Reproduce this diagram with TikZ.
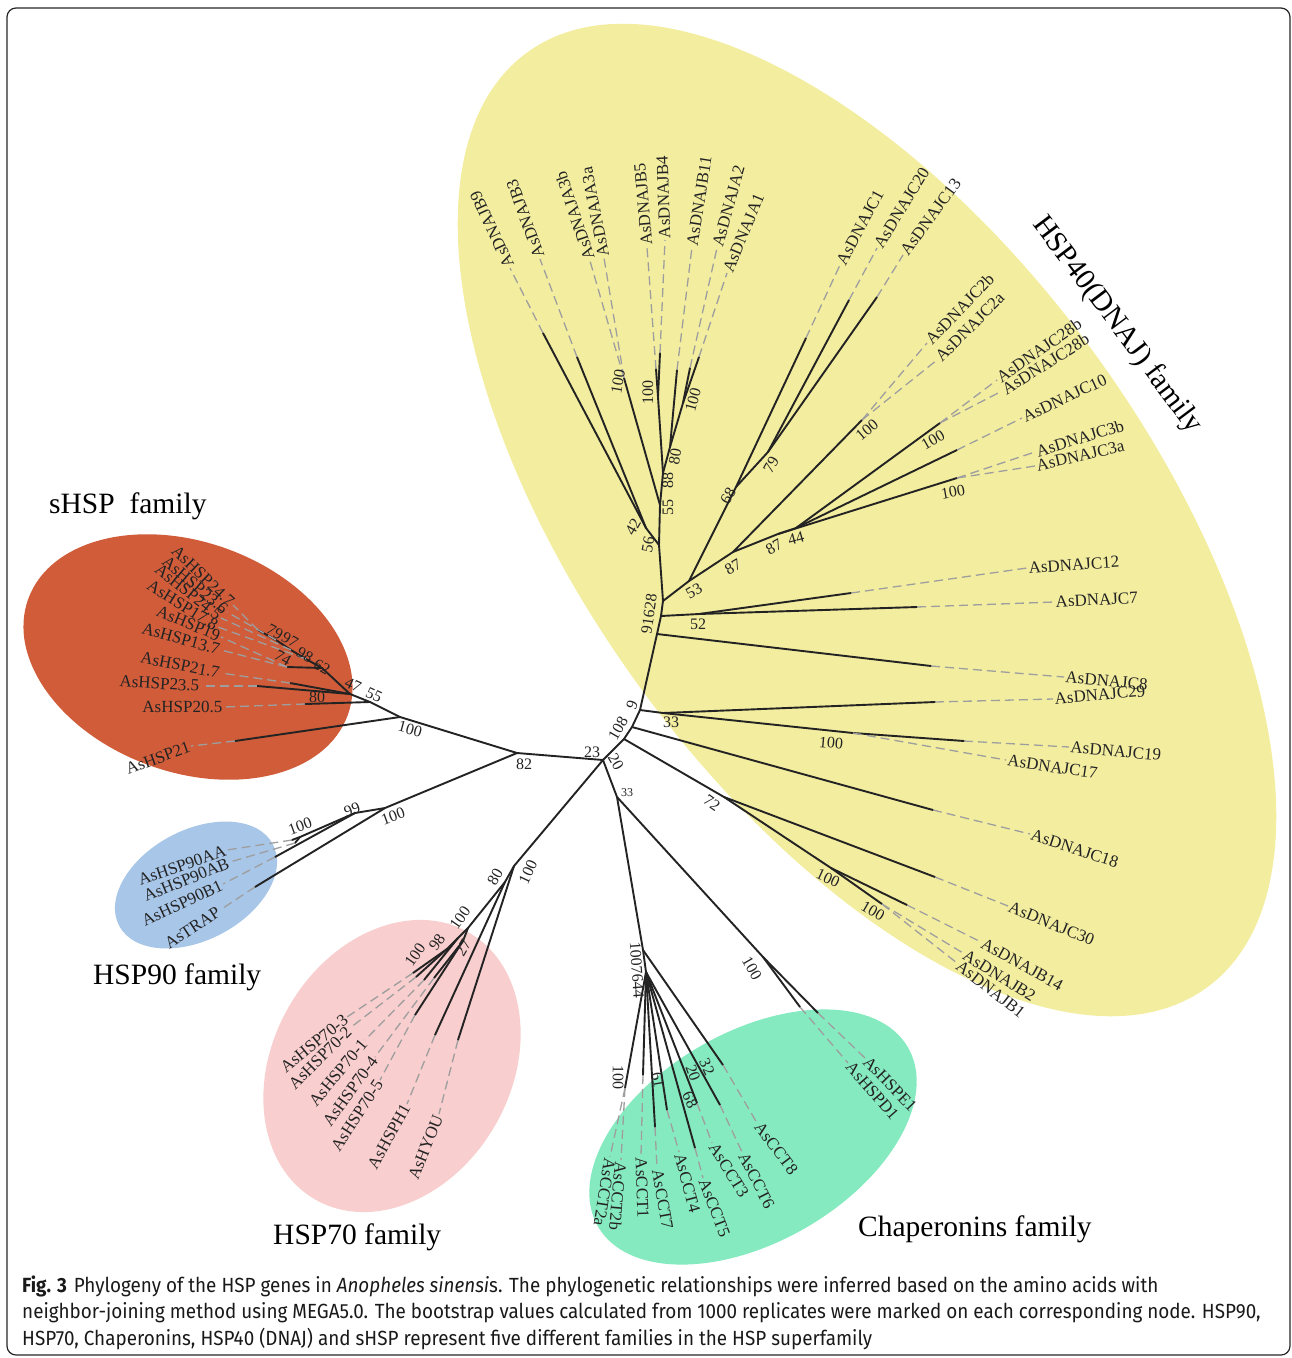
\documentclass[tikz,border=0pt]{standalone}
\usepackage{fontspec}
\setmainfont{Liberation Serif}
\newfontfamily\capfont[FakeStretch=0.92]{Fira Sans}
\definecolor{cY}{RGB}{243,237,160}
\definecolor{cO}{RGB}{208,92,58}
\definecolor{cB}{RGB}{168,198,232}
\definecolor{cP}{RGB}{248,206,206}
\definecolor{cG}{RGB}{134,234,192}
\definecolor{ink}{RGB}{35,35,35}
\tikzset{
 br/.style={draw=ink, line width=1.9pt, line cap=round},
 dl/.style={draw=black!38, line width=1.3pt, dash pattern=on 9pt off 5pt},
 lf/.style={font=\fontsize{17}{18}\selectfont, inner sep=1.5pt, text=ink},
 bs/.style={font=\fontsize{16}{17}\selectfont, inner sep=0pt, text=ink},
 bss/.style={font=\fontsize{12}{13}\selectfont, inner sep=0pt, text=ink},
 fam/.style={font=\fontsize{29.5}{31}\selectfont, inner sep=0pt, text=black},
 captxt/.style={font=\capfont\fontsize{20.5}{22}\selectfont, inner sep=0pt, text=black!90},
}
\begin{document}
\begin{tikzpicture}[x=1pt,y=-1pt]
\useasboundingbox (0,0) rectangle (1292,1358);
\draw[line width=1.2pt, rounded corners=9pt, draw=black!85] (7,8) rectangle (1290,1355);
% family backgrounds
\fill[cY, rotate around={-54:(867,520)}] (867,520) ellipse [x radius=578, y radius=282];
\fill[cO, rotate around={-20:(188,657)}] (188,657) ellipse [x radius=170, y radius=115];
\fill[cB, rotate around={28:(196,885)}] (196,885) ellipse [x radius=87, y radius=55];
\fill[cP, rotate around={60:(392,1066)}] (392,1066) ellipse [x radius=154, y radius=119];
\fill[cG, rotate around={30:(753,1137)}] (753,1137) ellipse [x radius=179, y radius=105];

% ---------- coordinates ----------
\coordinate (n82) at (517,753);
\coordinate (n23) at (603,760);
\coordinate (nA) at (624,739);
\coordinate (nB) at (632,727);
\coordinate (s9) at (640,710);
\coordinate (sC8) at (657,634);
\coordinate (sC7) at (661,616);
\coordinate (s28) at (663,601);
\coordinate (s56) at (659,545);
\coordinate (n42) at (646,528);
\coordinate (n55) at (660,505);
\coordinate (n88) at (663,473);
\coordinate (n80) at (670,447);
\coordinate (nB45) at (658,397);
\coordinate (nA12) at (683,403);
\coordinate (nA3) at (624,378);
\coordinate (tB9) at (543,333);
\coordinate (tB3) at (577,357);
\coordinate (tB5) at (656,369);
\coordinate (tB4) at (660,353);
\coordinate (tB11) at (677,370);
\coordinate (tA2) at (690,368);
\coordinate (tA1) at (699,357);
\coordinate (n53) at (689,581);
\coordinate (n68) at (736,487);
\coordinate (n79) at (768,452);
\coordinate (tC1) at (806,338);
\coordinate (tC20) at (849,300);
\coordinate (tC13) at (877,297);
\coordinate (n87a) at (733,552);
\coordinate (n87b) at (778,534);
\coordinate (n44) at (796,528);
\coordinate (nC2) at (862,420);
\coordinate (nC28) at (940,423);
\coordinate (tC10) at (957,450);
\coordinate (nC3) at (957,478);
\coordinate (n52) at (699,614);
\coordinate (tC12) at (851,593);
\coordinate (tC7) at (917,607);
\coordinate (tC8) at (931,666);
\coordinate (n33) at (663,713);
\coordinate (tC29) at (935,702);
\coordinate (n100k) at (853,733);
\coordinate (tC19) at (964,741);
\coordinate (tC18) at (933,810);
\coordinate (n72) at (724,797);
\coordinate (tC30) at (935,877);
\coordinate (n100a) at (831,868);
\coordinate (tB14) at (907,905);
\coordinate (n100b) at (882,904);
\coordinate (n33c) at (617,797);
\coordinate (n100c) at (763,957);
\coordinate (tE1) at (818,1013);
\coordinate (tD1) at (800,1007);
\coordinate (n100d) at (643,950);
\coordinate (n64) at (646,972);
\coordinate (nCCT2) at (625,1088);
\coordinate (tCCT1) at (643,1075);
\coordinate (tCCT7) at (655,1127);
\coordinate (tCCT4) at (667,1110);
\coordinate (tCCT5) at (695,1148);
\coordinate (tCCT3) at (697,1103);
\coordinate (tCCT6) at (720,1105);
\coordinate (tCCT8) at (723,1065);
\coordinate (n100e) at (514,866);
\coordinate (n80b) at (505,882);
\coordinate (n100f) at (468,928);
\coordinate (n98) at (458,938);
\coordinate (n100g) at (447,949);
\coordinate (n27) at (463,941);
\coordinate (tHYOU) at (458,1040);
\coordinate (tH1) at (435,1035);
\coordinate (t703) at (413,973);
\coordinate (t702) at (416,977);
\coordinate (t701) at (424,980);
\coordinate (t704) at (434,978);
\coordinate (t705) at (415,1015);
\coordinate (n100h) at (385,808);
\coordinate (n99) at (355,813);
\coordinate (n100i) at (300,837);
\coordinate (tTRAP) at (255,887);
\coordinate (tB1h) at (275,857);
\coordinate (tAA) at (292,840);
\coordinate (tAB) at (295,843);
\coordinate (n100j) at (400,717);
\coordinate (tH21) at (235,741);
\coordinate (n55s) at (370,702);
\coordinate (tH20) at (305,704);
\coordinate (n47s) at (350,694);
\coordinate (tH235) at (257,686);
\coordinate (tH217) at (290,683);
\coordinate (n62s) at (322,668);
\coordinate (n98s) at (306,659);
\coordinate (n97s) at (291,650);
\coordinate (n79s) at (276,640);
\coordinate (tH247) at (258,630);
\coordinate (n74s) at (287,667);

% ---------- branches ----------
\draw[br] (n82) -- (n23) -- (nA) -- (nB) -- (s9) -- (sC8) -- (sC7) -- (s28) -- (s56);
\draw[br] (s56) -- (n42) -- (tB9);
\draw[br] (n42) -- (tB3);
\draw[br] (s56) -- (n55) -- (nA3);
\draw[br] (n55) -- (n88) -- (nB45) -- (tB5);
\draw[br] (nB45) -- (tB4);
\draw[br] (n88) -- (n80) -- (tB11);
\draw[br] (n80) -- (nA12) -- (tA2);
\draw[br] (nA12) -- (tA1);
\draw[br] (s28) -- (n53) -- (n68) -- (tC1);
\draw[br] (n68) -- (n79) -- (tC20);
\draw[br] (n79) -- (tC13);
\draw[br] (n53) -- (n87a) -- (nC2);
\draw[br] (n87a) -- (n87b) -- (nC3);
\draw[br] (n87b) -- (n44) -- (nC28);
\draw[br] (n44) -- (tC10);
\draw[br] (sC7) -- (n52) -- (tC7);
\draw[br] (n52) -- (tC12);
\draw[br] (sC8) -- (tC8);
\draw[br] (s9) -- (n33) -- (tC29);
\draw[br] (n33) -- (n100k) -- (tC19);
\draw[br] (nB) -- (tC18);
\draw[br] (nA) -- (n72) -- (tC30);
\draw[br] (n72) -- (n100a) -- (tB14);
\draw[br] (n100a) -- (n100b);
\draw[br] (n23) -- (n33c) -- (n100c) -- (tE1);
\draw[br] (n100c) -- (tD1);
\draw[br] (n33c) -- (n100d) -- (tCCT8);
\draw[br] (n100d) -- (n64) -- (nCCT2);
\draw[br] (n64) -- (tCCT1);
\draw[br] (n64) -- (tCCT7);
\draw[br] (n64) -- (tCCT4);
\draw[br] (n64) -- (tCCT5);
\draw[br] (n64) -- (tCCT3);
\draw[br] (n64) -- (tCCT6);
\draw[br] (n23) -- (n100e) -- (tHYOU);
\draw[br] (n100e) -- (n80b) -- (tH1);
\draw[br] (n80b) -- (n100f) -- (n98) -- (n100g) -- (t703);
\draw[br] (n100g) -- (t702);
\draw[br] (n98) -- (t701);
\draw[br] (n100f) -- (n27) -- (t704);
\draw[br] (n27) -- (t705);
\draw[br] (n82) -- (n100h) -- (tTRAP);
\draw[br] (n100h) -- (n99) -- (tB1h);
\draw[br] (n99) -- (n100i) -- (tAA);
\draw[br] (n100i) -- (tAB);
\draw[br] (n82) -- (n100j) -- (tH21);
\draw[br] (n100j) -- (n55s) -- (tH20);
\draw[br] (n55s) -- (n47s) -- (tH235);
\draw[br] (n47s) -- (tH217);
\draw[br] (n47s) -- (n62s) -- (n98s) -- (n97s) -- (n79s) -- (tH247);
\draw[br] (n62s) -- (n74s);

% ---------- leaf labels ----------
\node[lf, anchor=west, rotate=115] (lB9) at (510,268) {AsDNAJB9};
\node[lf, anchor=west, rotate=110] (lB3) at (540,259) {AsDNAJB3};
\node[lf, anchor=west, rotate=108.7] (lA3b) at (590,261) {AsDNAJA3b};
\node[lf, anchor=west, rotate=101] (lA3a) at (604,258) {AsDNAJA3a};
\node[lf, anchor=west, rotate=95] (lB5) at (647,247) {AsDNAJB5};
\node[lf, anchor=west, rotate=92] (lB4) at (665,240) {AsDNAJB4};
\node[lf, anchor=west, rotate=81] (lB11) at (692,247) {AsDNAJB11};
\node[lf, anchor=west, rotate=74.5] (lA2) at (717,248) {AsDNAJA2};
\node[lf, anchor=west, rotate=67.5] (lA1) at (727,273) {AsDNAJA1};
\node[lf, anchor=west, rotate=62] (lC1) at (840,265) {AsDNAJC1};
\node[lf, anchor=west, rotate=58.5] (lC20) at (877,248) {AsDNAJC20};
\node[lf, anchor=west, rotate=54] (lC13) at (903,255) {AsDNAJC13};
\node[lf, anchor=west, rotate=46] (lC2b) at (927,343) {AsDNAJC2b};
\node[lf, anchor=west, rotate=45] (lC2a) at (937,360) {AsDNAJC2a};
\node[lf, anchor=west, rotate=35] (lC28x) at (997,380) {AsDNAJC28b};
\node[lf, anchor=west, rotate=32] (lC28y) at (1002,391) {AsDNAJC28b};
\node[lf, anchor=west, rotate=25] (lC10) at (1022,418) {AsDNAJC10};
\node[lf, anchor=west, rotate=17] (lC3b) at (1035,452) {AsDNAJC3b};
\node[lf, anchor=west, rotate=13] (lC3a) at (1035,466) {AsDNAJC3a};
\node[lf, anchor=west, rotate=4] (lC12) at (1027,568) {AsDNAJC12};
\node[lf, anchor=west, rotate=3] (lC7) at (1054,602) {AsDNAJC7};
\node[lf, anchor=west, rotate=-5] (lC8) at (1064,677) {AsDNAJC8};
\node[lf, anchor=west, rotate=5] (lC29) at (1053,699) {AsDNAJC29};
\node[lf, anchor=west, rotate=-5] (lC19) at (1069,747) {AsDNAJC19};
\node[lf, anchor=west, rotate=-8.5] (lC17) at (1006,760) {AsDNAJC17};
\node[lf, anchor=west, rotate=-18] (lC18) at (1030,834) {AsDNAJC18};
\node[lf, anchor=west, rotate=-22] (lC30) at (1008,906) {AsDNAJC30};
\node[lf, anchor=west, rotate=-29] (lB14) at (981,942) {AsDNAJB14};
\node[lf, anchor=west, rotate=-32] (lB2) at (963,953) {AsDNAJB2};
\node[lf, anchor=west, rotate=-38] (lB1) at (957,963) {AsDNAJB1};
\node[lf, anchor=west, rotate=-46] (lE1) at (865,1058) {AsHSPE1};
\node[lf, anchor=west, rotate=-49] (lD1) at (848,1063) {AsHSPD1};
\node[lf, anchor=west, rotate=-53] (lCCT8) at (757,1123) {AsCCT8};
\node[lf, anchor=west, rotate=-63] (lCCT6) at (742,1152) {AsCCT6};
\node[lf, anchor=west, rotate=-58] (lCCT3) at (712,1143) {AsCCT3};
\node[lf, anchor=west, rotate=-69] (lCCT5) at (703,1178) {AsCCT5};
\node[lf, anchor=west, rotate=-75] (lCCT4) at (679,1152) {AsCCT4};
\node[lf, anchor=west, rotate=-80] (lCCT7) at (657,1168) {AsCCT7};
\node[lf, anchor=west, rotate=-88] (lCCT1) at (641,1156) {AsCCT1};
\node[lf, anchor=west, rotate=-95] (lCCT2b) at (621,1160) {AsCCT2b};
\node[lf, anchor=west, rotate=-99] (lCCT2a) at (610,1157) {AsCCT2a};
\node[lf, anchor=east, rotate=39] (l703) at (347,1017) {AsHSP70-3};
\node[lf, anchor=east, rotate=45] (l702) at (350,1028) {AsHSP70-2};
\node[lf, anchor=east, rotate=50.5] (l701) at (365,1040) {AsHSP70-1};
\node[lf, anchor=east, rotate=54] (l704) at (375,1057) {AsHSP70-4};
\node[lf, anchor=east, rotate=57] (l705) at (380,1080) {AsHSP70-5};
\node[lf, anchor=east, rotate=61] (lH1) at (407,1104) {AsHSPH1};
\node[lf, anchor=east, rotate=68] (lHYOU) at (439,1114) {AsHYOU};
\node[lf, anchor=east, rotate=19] (lAA) at (227,850) {AsHSP90AA};
\node[lf, anchor=east, rotate=22] (lAB) at (230,862) {AsHSP90AB};
\node[lf, anchor=east, rotate=25] (lB1h) at (223,884) {AsHSP90B1};
\node[lf, anchor=east, rotate=33] (lTRAP) at (220,910) {AsTRAP};
\node[lf, anchor=east, rotate=-44] (lH247) at (233,605) {AsHSP24.7};
\node[lf, anchor=east, rotate=-40] (lH236) at (227,612) {AsHSP23.6};
\node[lf, anchor=east, rotate=-38.6] (lH245) at (221,618) {AsHSP24.5};
\node[lf, anchor=east, rotate=-32] (lH178) at (218,627) {AsHSP17.8};
\node[lf, anchor=east, rotate=-22.6] (lH19) at (221,637) {AsHSP19};
\node[lf, anchor=east, rotate=-15.6] (lH137) at (221,650) {AsHSP13.7};
\node[lf, anchor=east, rotate=-11] (lH217) at (221,673) {AsHSP21.7};
\node[lf, anchor=east, rotate=-3.5] (lH235) at (201,686) {AsHSP23.5};
\node[lf, anchor=east, rotate=0] (lH205) at (224,707) {AsHSP20.5};
\node[lf, anchor=east, rotate=20] (lH21) at (191,746) {AsHSP21};

% ---------- leaders ----------
\draw[dl] (tB9) -- (lB9.west);
\draw[dl] (tB3) -- (lB3.west);
\draw[dl] (nA3) -- (lA3b.west);
\draw[dl] (nA3) -- (lA3a.west);
\draw[dl] (tB5) -- (lB5.west);
\draw[dl] (tB4) -- (lB4.west);
\draw[dl] (tB11) -- (lB11.west);
\draw[dl] (tA2) -- (lA2.west);
\draw[dl] (tA1) -- (lA1.west);
\draw[dl] (tC1) -- (lC1.west);
\draw[dl] (tC20) -- (lC20.west);
\draw[dl] (tC13) -- (lC13.west);
\draw[dl] (nC2) -- (lC2b.west);
\draw[dl] (nC2) -- (lC2a.west);
\draw[dl] (nC28) -- (lC28x.west);
\draw[dl] (nC28) -- (lC28y.west);
\draw[dl] (tC10) -- (lC10.west);
\draw[dl] (nC3) -- (lC3b.west);
\draw[dl] (nC3) -- (lC3a.west);
\draw[dl] (tC12) -- (lC12.west);
\draw[dl] (tC7) -- (lC7.west);
\draw[dl] (tC8) -- (lC8.west);
\draw[dl] (tC29) -- (lC29.west);
\draw[dl] (tC19) -- (lC19.west);
\draw[dl] (n100k) -- (lC17.west);
\draw[dl] (tC18) -- (lC18.west);
\draw[dl] (tC30) -- (lC30.west);
\draw[dl] (tB14) -- (lB14.west);
\draw[dl] (n100b) -- (lB2.west);
\draw[dl] (n100b) -- (lB1.west);
\draw[dl] (tE1) -- (lE1.west);
\draw[dl] (tD1) -- (lD1.west);
\draw[dl] (tCCT8) -- (lCCT8.west);
\draw[dl] (tCCT6) -- (lCCT6.west);
\draw[dl] (tCCT3) -- (lCCT3.west);
\draw[dl] (tCCT5) -- (lCCT5.west);
\draw[dl] (tCCT4) -- (lCCT4.west);
\draw[dl] (tCCT7) -- (lCCT7.west);
\draw[dl] (tCCT1) -- (lCCT1.west);
\draw[dl] (nCCT2) -- (lCCT2b.west);
\draw[dl] (nCCT2) -- (lCCT2a.west);
\draw[dl] (t703) -- (l703.east);
\draw[dl] (t702) -- (l702.east);
\draw[dl] (t701) -- (l701.east);
\draw[dl] (t704) -- (l704.east);
\draw[dl] (t705) -- (l705.east);
\draw[dl] (tH1) -- (lH1.east);
\draw[dl] (tHYOU) -- (lHYOU.east);
\draw[dl] (tAA) -- (lAA.east);
\draw[dl] (tAB) -- (lAB.east);
\draw[dl] (tB1h) -- (lB1h.east);
\draw[dl] (tTRAP) -- (lTRAP.east);
\draw[dl] (tH247) -- (lH247.east);
\draw[dl] (n79s) -- (lH236.east);
\draw[dl] (n97s) -- (lH245.east);
\draw[dl] (n98s) -- (lH178.east);
\draw[dl] (n74s) -- (lH19.east);
\draw[dl] (n74s) -- (lH137.east);
\draw[dl] (tH217) -- (lH217.east);
\draw[dl] (tH235) -- (lH235.east);
\draw[dl] (tH20) -- (lH205.east);
\draw[dl] (tH21) -- (lH21.east);

% ---------- bootstrap values ----------
\node[bs, rotate=-30] (b1) at (275,632) {79};
\node[bs, rotate=-30] (b2) at (290,640) {97};
\node[bs, rotate=-30] (b3) at (305,655) {98};
\node[bs, rotate=-30] (b4) at (322,667) {62};
\node[bs, rotate=-30] (b5) at (283,658) {74};
\node[bs, rotate=-25] (b6) at (353,685) {47};
\node[bs, rotate=-25] (b7) at (374,695) {55};
\node[bs] (b8) at (317,697) {80};
\node[bs, rotate=-15] (b9) at (410,729) {100};
\node[bs] (b10) at (524,764) {82};
\node[bs] (b11) at (592,752) {23};
\node[bs, rotate=-60] (b12) at (616,762) {20};
\node[bs, rotate=60] (b13) at (618,728) {108};
\node[bs, rotate=70] (b14) at (632,705) {9};
\node[bs] (b15) at (671,722) {33};
\node[bs, rotate=20] (b16) at (300,826) {100};
\node[bs, rotate=20] (b17) at (352,810) {99};
\node[bs, rotate=20] (b18) at (393,816) {100};
\node[bs, rotate=60] (b19) at (495,877) {80};
\node[bs, rotate=65] (b20) at (528,872) {100};
\node[bs, rotate=55] (b21) at (460,918) {100};
\node[bs, rotate=55] (b22) at (437,942) {98};
\node[bs, rotate=55] (b23) at (415,955) {100};
\node[bs, rotate=60] (b24) at (463,948) {27};
\node[bss] (b25) at (627,793) {33};
\node[bs, rotate=-60] (b26) at (752,968) {100};
\node[bs, rotate=-86] (b27) at (637,970) {1007644};
\node[bs, rotate=-90] (b28) at (618,1077) {100};
\node[bs, rotate=-80] (b29) at (658,1080) {61};
\node[bs, rotate=-70] (b30) at (693,1073) {20};
\node[bs, rotate=-65] (b31) at (690,1100) {68};
\node[bs, rotate=-65] (b32) at (707,1067) {32};
\node[bs, rotate=-35] (b33) at (712,803) {72};
\node[bs, rotate=-25] (b34) at (828,878) {100};
\node[bs, rotate=-30] (b35) at (873,911) {100};
\node[bs, rotate=-5] (b36) at (831,743) {100};
\node[bs, rotate=82] (b37) at (649,614) {91628};
\node[bs] (b38) at (698,624) {52};
\node[bs, rotate=30] (b39) at (694,591) {53};
\node[bs, rotate=30] (b40) at (733,567) {87};
\node[bs, rotate=30] (b41) at (774,547) {87};
\node[bs, rotate=15] (b42) at (796,538) {44};
\node[bs, rotate=60] (b43) at (728,496) {68};
\node[bs, rotate=60] (b44) at (771,465) {79};
\node[bs, rotate=40] (b45) at (867,430) {100};
\node[bs, rotate=30] (b46) at (933,440) {100};
\node[bs, rotate=10] (b47) at (953,492) {100};
\node[bs, rotate=80] (b48) at (648,545) {56};
\node[bs, rotate=60] (b49) at (633,527) {42};
\node[bs, rotate=90] (b50) at (668,507) {55};
\node[bs, rotate=90] (b51) at (668,480) {88};
\node[bs, rotate=80] (b52) at (675,457) {80};
\node[bs, rotate=80] (b53) at (618,382) {100};
\node[bs, rotate=90] (b54) at (648,392) {100};
\node[bs, rotate=75] (b55) at (693,400) {100};

% ---------- family names ----------
\node[fam, anchor=base west] (fS) at (49,513) {sHSP\ \ family};
\node[fam, anchor=base west] (f90) at (93,984) {HSP90 family};
\node[fam, anchor=base west] (f70) at (273,1244) {HSP70 family};
\node[fam, anchor=base west] (fC) at (858,1236) {Chaperonins family};
\node[fam, rotate=-53] (f40) at (1117,325) {HSP40(DNAJ) family};

% ---------- caption ----------
\node[captxt, anchor=base west] (c1) at (22,1292) {\textbf{Fig. 3}\hspace{7pt}Phylogeny of the HSP genes in \textit{Anopheles sinensi}s. The phylogenetic relationships were inferred based on the amino acids with};
\node[captxt, anchor=base west] (c2) at (22,1318) {neighbor-joining method using MEGA5.0. The bootstrap values calculated from 1000 replicates were marked on each corresponding node. HSP90,};
\node[captxt, anchor=base west] (c3) at (22,1345) {HSP70, Chaperonins, HSP40 (DNAJ) and sHSP represent five different families in the HSP superfamily};
\end{tikzpicture}
\end{document}
